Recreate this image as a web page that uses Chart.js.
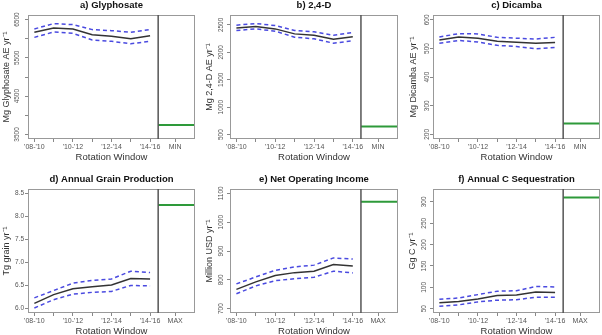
<!DOCTYPE html>
<html>
<head>
<meta charset="utf-8">
<script src="https://cdn.jsdelivr.net/npm/chart.js@4/dist/chart.umd.min.js"></script>
<style>
  html, body { margin: 0; padding: 0; background: #fff; }
  #wrap { position: relative; width: 602px; height: 335px; overflow: hidden; }
  canvas { position: absolute; }
</style>
</head>
<body>
<div id="wrap"></div>
<script>
// rotation windows (x categories)
const windows = ["'08-'10", "'09-'11", "'10-'12", "'11-'13", "'12-'14", "'13-'15", "'14-'16"];

// a) Glyphosate
const glyMean  = [6168, 6281, 6255, 6106, 6063, 6001, 6080];
const glyUpper = [6255, 6395, 6369, 6238, 6211, 6168, 6238];
const glyLower = [6036, 6176, 6141, 5966, 5931, 5870, 5931];
const glyOpt = 3745;
const glyTicks = [3500, 4000, 4500, 5000, 5500, 6000, 6500];
const glyTickLabels = ["3500", "", "4500", "", "5500", "", "6500"];

// b) 2,4-D
const tfdMean  = [2445, 2470, 2427, 2336, 2312, 2239, 2282];
const tfdUpper = [2494, 2524, 2488, 2397, 2373, 2312, 2361];
const tfdLower = [2397, 2427, 2385, 2276, 2245, 2167, 2209];
const tfdOpt = 646;
const tfdTicks = [500, 1000, 1500, 2000, 2500];
const tfdTickLabels = ["500", "1000", "1500", "2000", "2500"];

// c) Dicamba
const dicMean  = [530, 540, 536, 525, 522, 518, 521];
const dicUpper = [540, 552, 551, 539, 536, 533, 539];
const dicLower = [518, 528, 523, 511, 507, 499, 504];
const dicOpt = 238;
const dicTicks = [200, 300, 400, 500, 600];
const dicTickLabels = ["200", "300", "400", "500", "600"];

// d) Annual grain production
const grainMean  = [6.11, 6.30, 6.43, 6.47, 6.51, 6.65, 6.64];
const grainUpper = [6.23, 6.39, 6.55, 6.61, 6.64, 6.81, 6.78];
const grainLower = [6.01, 6.19, 6.31, 6.35, 6.37, 6.50, 6.49];
const grainOpt = 8.25;
const grainTicks = [6.0, 6.5, 7.0, 7.5, 8.0, 8.5];
const grainTickLabels = ["6.0", "6.5", "7.0", "7.5", "8.0", "8.5"];

// e) Net operating income
const incMean  = [767, 793, 815, 825, 830, 853, 848];
const incUpper = [786, 810, 833, 845, 851, 876, 872];
const incLower = [752, 779, 797, 804, 809, 830, 824];
const incOpt = 1071;
const incTicks = [700, 800, 900, 1000, 1100];
const incTickLabels = ["700", "800", "900", "1000", "1100"];

// f) Annual C sequestration
const carbMean  = [64, 67, 73, 81, 82, 89, 88];
const carbUpper = [72, 75, 83, 91, 92, 102, 101];
const carbLower = [56, 59, 66, 70, 71, 77, 77];
const carbOpt = 310;
const carbTicks = [50, 100, 150, 200, 250, 300];
const carbTickLabels = ["50", "100", "150", "200", "250", "300"];

// x layout (index units): windows at 0..6, divider, then the MIN / MAX slot
const X_MIN = -0.33, X_MAX = 8.33, DIVIDER_X = 6.42, OPT_X = 7.3;

const FONT = "'Liberation Sans', Arial, sans-serif";

const panels = [
  { title: "a) Glyphosate", yTitle: "Mg Glyphosate AE yr⁻¹", mean: glyMean, upper: glyUpper, lower: glyLower,
    opt: glyOpt, optLabel: "MIN", ticks: glyTicks, tickLabels: glyTickLabels, ymin: 3380, ymax: 6620,
    col: 0, row: 0, areaLeft: 28, padRight: 5, yTitleX: 7, yLabelX: 17 },
  { title: "b) 2,4-D", yTitle: "Mg 2,4-D AE yr⁻¹", mean: tfdMean, upper: tfdUpper, lower: tfdLower,
    opt: tfdOpt, optLabel: "MIN", ticks: tfdTicks, tickLabels: tfdTickLabels, ymin: 420, ymax: 2680,
    col: 1, row: 0, areaLeft: 30, padRight: 2, yTitleX: 10, yLabelX: 21 },
  { title: "c) Dicamba", yTitle: "Mg Dicamba AE yr⁻¹", mean: dicMean, upper: dicUpper, lower: dicLower,
    opt: dicOpt, optLabel: "MIN", ticks: dicTicks, tickLabels: dicTickLabels, ymin: 184, ymax: 617,
    col: 2, row: 0, areaLeft: 33, padRight: 2, yTitleX: 14, yLabelX: 27 },
  { title: "d) Annual Grain Production", yTitle: "Tg grain yr⁻¹", mean: grainMean, upper: grainUpper, lower: grainLower,
    opt: grainOpt, optLabel: "MAX", ticks: grainTicks, tickLabels: grainTickLabels, ymin: 5.9, ymax: 8.6,
    col: 0, row: 1, areaLeft: 28, padRight: 5, yTitleX: 7, flat: true },
  { title: "e) Net Operating Income", yTitle: "Million USD yr⁻¹", mean: incMean, upper: incUpper, lower: incLower,
    opt: incOpt, optLabel: "MAX", ticks: incTicks, tickLabels: incTickLabels, ymin: 685, ymax: 1115,
    col: 1, row: 1, areaLeft: 30, padRight: 2, yTitleX: 10, yLabelX: 21 },
  { title: "f) Annual C Sequestration", yTitle: "Gg C yr⁻¹", mean: carbMean, upper: carbUpper, lower: carbLower,
    opt: carbOpt, optLabel: "MAX", ticks: carbTicks, tickLabels: carbTickLabels, ymin: 40, ymax: 330,
    col: 2, row: 1, areaLeft: 33, padRight: 2, yTitleX: 13, yLabelX: 24 }
];

const colLeft = [0, 200, 400], colWidth = [200, 200, 202];
const rowTop = [0, 174], CANVAS_H = 163, X_AXIS_H = 24;

// box, divider, panel title and upright y tick labels
const decor = {
  id: "decor",
  afterDatasetsDraw(chart, args, opts) {
    const p = opts.panel;
    const { ctx, chartArea: a, scales } = chart;
    ctx.save();
    ctx.strokeStyle = "#999";
    ctx.lineWidth = 1;
    ctx.strokeRect(a.left + 0.5, a.top + 0.5, a.right - a.left - 1, a.bottom - a.top - 1);

    const dx = scales.x.getPixelForValue(DIVIDER_X);
    ctx.strokeStyle = "#555";
    ctx.lineWidth = 1.5;
    ctx.beginPath();
    ctx.moveTo(dx, a.top);
    ctx.lineTo(dx, a.bottom);
    ctx.stroke();

    ctx.fillStyle = "#111";
    ctx.font = "bold 9.5px " + FONT;
    ctx.textAlign = "center";
    ctx.textBaseline = "middle";
    ctx.fillText(p.title, (a.left + a.right) / 2, 5.5);

    if (!p.flat) {
      ctx.fillStyle = "#555";
      ctx.font = "6.5px " + FONT;
      scales.y.ticks.forEach(t => {
        if (!t.label) return;
        ctx.save();
        ctx.translate(p.yLabelX, scales.y.getPixelForValue(t.value));
        ctx.rotate(-Math.PI / 2);
        ctx.fillText(t.label, 0, 0);
        ctx.restore();
      });
    }
    ctx.restore();
  }
};

function makePanel(p) {
  const canvas = document.createElement("canvas");
  canvas.width = colWidth[p.col];
  canvas.height = CANVAS_H;
  canvas.style.left = colLeft[p.col] + "px";
  canvas.style.top = rowTop[p.row] + "px";
  document.getElementById("wrap").appendChild(canvas);

  const pts = arr => arr.map((v, i) => ({ x: i, y: v }));
  const xTickPos = windows.map((w, i) => i).concat(OPT_X);
  const xTickLabels = windows.map((w, i) => (i % 2 === 0 ? w : "")).concat(p.optLabel);
  const dashed = { borderColor: "#4a4ae0", borderWidth: 1.5, borderDash: [4, 3], pointRadius: 0, tension: 0, fill: false };

  new Chart(canvas, {
    type: "line",
    data: {
      datasets: [
        { ...dashed, label: "upper", data: pts(p.upper) },
        { ...dashed, label: "lower", data: pts(p.lower) },
        { label: "mean", data: pts(p.mean), borderColor: "#333", borderWidth: 1.5, pointRadius: 0, tension: 0 },
        { label: "optimum", data: [{ x: DIVIDER_X, y: p.opt }, { x: X_MAX, y: p.opt }],
          borderColor: "#2e9a3a", borderWidth: 2, pointRadius: 0 }
      ]
    },
    options: {
      responsive: false,
      animation: false,
      devicePixelRatio: 1,
      layout: { padding: { top: 15, right: p.padRight, left: 0, bottom: 0 } },
      plugins: { legend: { display: false }, tooltip: { enabled: false }, decor: { panel: p } },
      scales: {
        x: {
          type: "linear", min: X_MIN, max: X_MAX,
          afterBuildTicks: s => { s.ticks = xTickPos.map(v => ({ value: v })); },
          afterFit: s => { s.height = X_AXIS_H; },
          ticks: { autoSkip: false, maxRotation: 0, minRotation: 0, padding: 0.5, color: "#555",
                   font: { size: 7, family: FONT }, callback: (v, i) => xTickLabels[i] },
          grid: { drawOnChartArea: false, drawTicks: true, tickLength: 3, color: "#888" },
          border: { display: false },
          title: { display: true, text: "Rotation Window", color: "#333", font: { size: 9.5, family: FONT },
                   padding: { top: 0, bottom: 0 } }
        },
        y: {
          min: p.ymin, max: p.ymax,
          afterBuildTicks: s => { s.ticks = p.ticks.map(v => ({ value: v })); },
          afterFit: s => { s.width = p.areaLeft; },
          ticks: { display: !!p.flat, padding: 1, color: "#555", font: { size: 6.5, family: FONT },
                   callback: (v, i) => p.tickLabels[i] },
          grid: { drawOnChartArea: false, drawTicks: true, tickLength: 3, color: "#888" },
          border: { display: false },
          title: { display: true, text: p.yTitle, color: "#333", font: { size: 9, family: FONT },
                   padding: { top: p.yTitleX - 5.4, bottom: 0 } }
        }
      }
    },
    plugins: [decor]
  });
}

panels.forEach(makePanel);
</script>
</body>
</html>
